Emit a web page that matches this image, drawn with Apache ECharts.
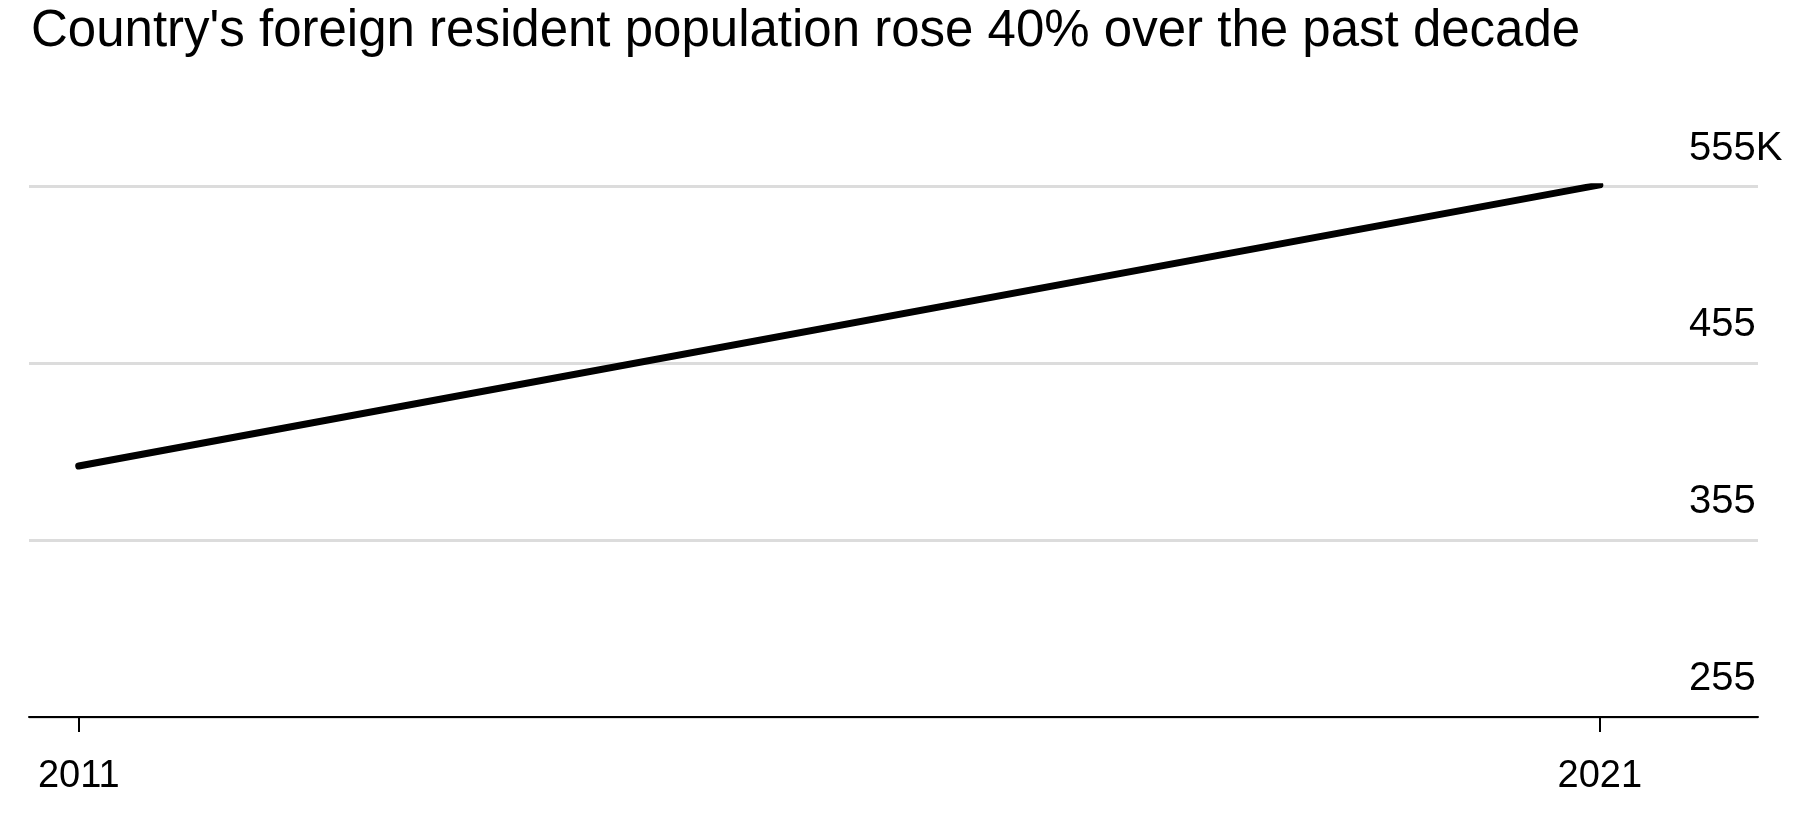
<!DOCTYPE html>
<html><head><meta charset="utf-8">
<script src="https://cdn.jsdelivr.net/npm/echarts@6/dist/echarts.min.js"></script>
<style>html,body{margin:0;padding:0;background:#fff}#c{width:1818px;height:832px}</style>
</head><body><div id="c"></div>
<script>
const titleText = "Country's foreign resident population rose 40% over the past decade";
const years = [2011, 2021];
const residents = [397, 556];
const yTicks = [255, 355, 455, 555];
const xTicks = [2011, 2021];

const chart = echarts.init(document.getElementById('c'), null, {renderer: 'canvas'});
const FONT = '"Liberation Sans", Arial, Helvetica, sans-serif';
chart.setOption({
  animation: false,
  backgroundColor: '#fff',
  title: {
    text: titleText, left: 26, top: 1,
    textStyle: {fontFamily: FONT, fontWeight: 'normal', fontSize: 51, color: '#000'}
  },
  grid: {left: 29, right: 60, top: 186.7, bottom: 115, containLabel: false},
  xAxis: {
    type: 'value', min: 2010.673, max: 2022.04,
    splitLine: {show: false},
    axisLine: {show: true, lineStyle: {color: '#000', width: 2}},
    axisTick: {show: true, customValues: xTicks, length: 15, lineStyle: {color: '#000', width: 2}},
    axisLabel: {customValues: xTicks, margin: 41, fontFamily: FONT, fontSize: 38, color: '#000',
      formatter: v => String(v)}
  },
  yAxis: {
    type: 'value', position: 'right', min: 255, max: 555, interval: 100,
    axisLine: {show: false}, axisTick: {show: false},
    splitLine: {show: true, lineStyle: {color: '#dcdcdc', width: 3}},
    axisLabel: {
      inside: true, align: 'left', margin: 69, verticalAlign: 'bottom',
      lineHeight: 76,
      fontFamily: FONT, fontSize: 40, color: '#000',
      customValues: yTicks,
      formatter: v => v === 555 ? v + 'K' : String(v)
    }
  },
  series: [{
    type: 'line', data: years.map((y, i) => [y, residents[i]]),
    symbol: 'none', lineStyle: {color: '#000', width: 7, cap: 'round'}
  }]
});
</script></body></html>
